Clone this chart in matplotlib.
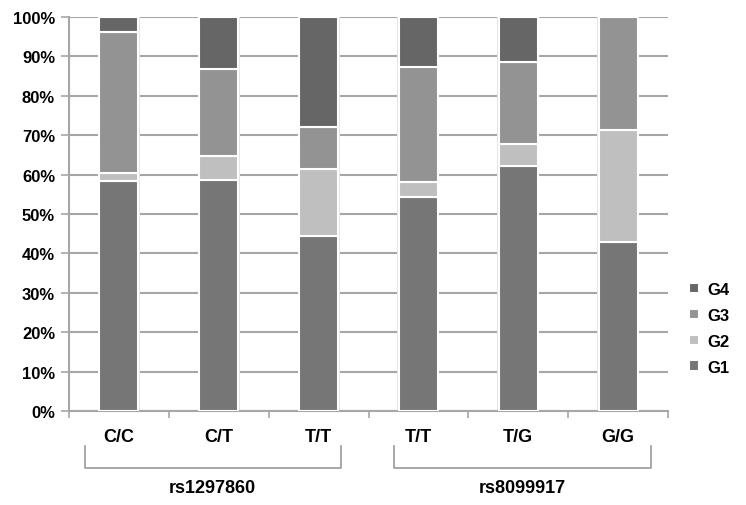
import matplotlib
matplotlib.use("Agg")
import matplotlib.pyplot as plt
import numpy as np

# ── Data (percent per genotype) ──────────────────────────────────
genotypes = ["C/C", "C/T", "T/T", "T/T", "T/G", "G/G"]
snps = ["rs1297860", "rs8099917"]
g1 = [58.5, 58.7, 44.5, 54.4, 62.1, 42.8]
g2 = [2.0, 6.1, 16.8, 3.7, 5.7, 28.6]
g3 = [35.7, 22.0, 10.9, 29.3, 20.9, 28.6]
g4 = [3.8, 13.2, 27.8, 12.6, 11.3, 0.0]
series = {"G1": g1, "G2": g2, "G3": g3, "G4": g4}
colors = {"G1": "#767676", "G2": "#bfbfbf", "G3": "#939393", "G4": "#666666"}

plt.rcParams["font.family"] = ["Liberation Sans Narrow", "Liberation Sans", "DejaVu Sans"]
plt.rcParams["font.weight"] = "bold"

fig = plt.figure(figsize=(7.46, 5.06), dpi=100)
ax = fig.add_axes([0.0925, 0.1858, 0.803, 0.7786])

x = np.arange(len(genotypes))
width = 0.39

# faint shadow behind each bar
totals = np.sum([g1, g2, g3, g4], axis=0)
ax.bar(x, totals, width=width + 0.03, color="#e4e4e4", zorder=2, linewidth=0)

bottom = np.zeros(len(genotypes))
handles = []
for name, vals in series.items():
    h = ax.bar(x, vals, width=width, bottom=bottom, color=colors[name],
               edgecolor="white", linewidth=1.5, zorder=3, label=name)
    handles.append(h)
    bottom += np.array(vals)

ax.set_xlim(-0.5, len(genotypes) - 0.5)
ax.set_ylim(0, 100)
ax.set_yticks(np.arange(0, 101, 10))
ax.set_yticklabels([f"{v}%" for v in range(0, 101, 10)], fontsize=12, fontweight="bold")
ax.yaxis.grid(True, color="#a6a6a6", linewidth=1.5, zorder=0)
ax.set_axisbelow(True)

# category boundaries carry the x tick marks
ax.set_xticks(np.arange(-0.5, len(genotypes)))
ax.set_xticklabels([])
ax.tick_params(axis="x", length=5, color="#a6a6a6", width=1.2)
ax.tick_params(axis="y", length=6, color="#a6a6a6", width=1.2, pad=4)
for s in ["top", "right"]:
    ax.spines[s].set_visible(False)
for s in ["left", "bottom"]:
    ax.spines[s].set_color("#a6a6a6")
    ax.spines[s].set_linewidth(1.5)

trans = ax.get_xaxis_transform()
for xi, g in zip(x, genotypes):
    ax.text(xi, -0.065, g, transform=trans, ha="center", va="center",
            fontsize=13, fontweight="bold")

# group brackets and SNP names
spans = [(-0.34, 2.22), (2.76, 5.33)]
for snp, (x0, x1) in zip(snps, spans):
    yt, yb = -0.088, -0.145
    ax.plot([x0, x0, x1, x1], [yt, yb, yb, yt], transform=trans,
            color="#9a9a9a", lw=1.2, clip_on=False)
    ax.text((x0 + x1) / 2, -0.195, snp, transform=trans, ha="center",
            va="center", fontsize=13, fontweight="bold")

leg = ax.legend(handles[::-1], list(series.keys())[::-1], loc="center left",
                bbox_to_anchor=(1.01, 0.21), frameon=False, fontsize=12,
                handlelength=0.6, handleheight=0.6, handletextpad=0.5,
                labelspacing=0.65)

fig.savefig("out.png", dpi=100)
